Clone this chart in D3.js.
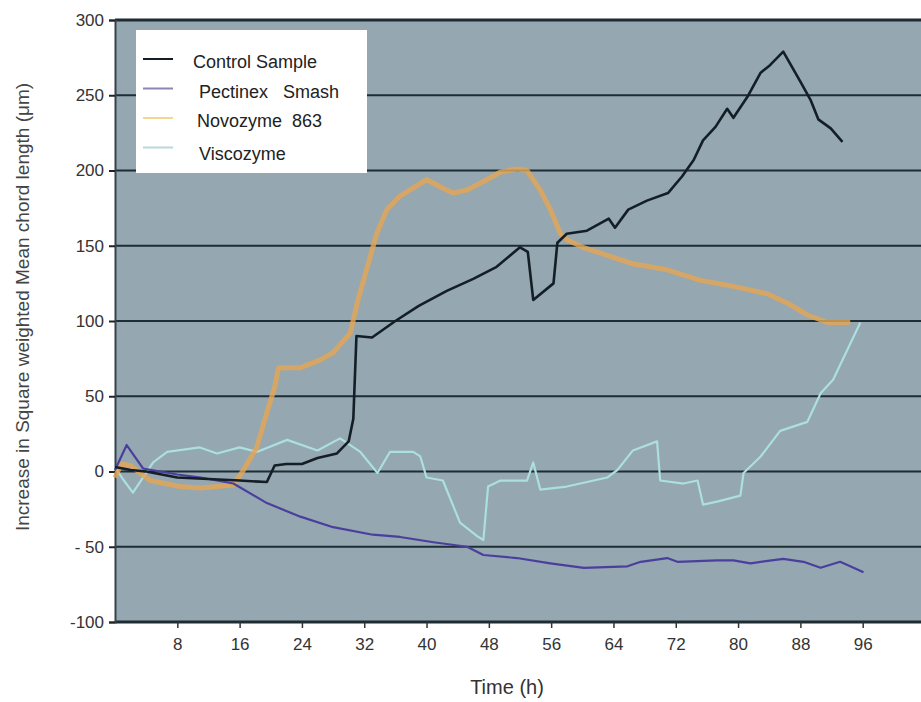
<!DOCTYPE html>
<html>
<head>
<meta charset="utf-8">
<script src="https://cdn.jsdelivr.net/npm/d3@7"></script>
<style>
  body { margin: 0; background: #fff; }
  svg { display: block; font-family: Arial, 'Liberation Sans', sans-serif; }
</style>
</head>
<body>
<div id="chart"></div>
<script>
// values: [time (h), increase (um)]
const controlSample = [
  [0, 3], [2, 1], [4, 0], [6, -2], [8, -4], [12, -5], [16, -6], [19.5, -7],
  [20.5, 4], [22, 5], [24, 5], [26, 9], [28.5, 12], [30, 20], [30.6, 35],
  [31, 90], [33, 89], [36, 100], [39, 110], [42.6, 120], [46, 128], [49, 136],
  [52, 149], [53, 146], [53.7, 114], [56.3, 125], [56.8, 152], [58, 158],
  [60.6, 160], [63.4, 168], [64.2, 162], [65.9, 174], [68.3, 180], [71, 185],
  [72.8, 196], [74.3, 207], [75.5, 220], [77.1, 229], [78.6, 241], [79.4, 235],
  [81.2, 249], [82.9, 265], [84.1, 270], [85.8, 279], [88, 259], [89.3, 247],
  [90.3, 234], [91.9, 228], [93.4, 219]
];
const pectinexSmash = [
  [0, 1], [1.5, 17.6], [3.6, 2], [5.8, 0], [8, -2], [11, -4], [15.2, -8],
  [19.5, -21], [23.8, -30], [28, -37], [33.1, -42], [36.6, -43.5], [40.9, -47],
  [45.2, -50], [47.3, -55.5], [51.6, -57.5], [55.9, -61], [60.2, -64],
  [65.8, -63], [67.5, -60], [70.9, -57.5], [72.2, -60], [77.3, -59],
  [79.4, -59], [81.6, -61], [85.8, -58], [88.4, -60], [90.6, -64], [93.1, -60],
  [94.4, -63], [96.1, -67]
];
const novozyme863 = [
  [0, -4], [0.8, 5], [2, 4], [4.5, -6], [8.3, -10], [11, -11], [15.2, -9],
  [16.5, 1], [18.2, 16], [19.5, 39], [20.5, 56], [21, 69], [23.8, 69],
  [26.3, 74], [28, 79], [30.2, 92], [31.2, 114], [32.4, 136], [33.6, 158],
  [34.9, 174], [36.6, 183], [40, 194], [41.8, 189], [43.4, 185], [45.2, 187],
  [47.8, 194], [49.5, 199], [51.6, 201], [52.9, 200], [54.6, 187], [55.9, 174],
  [57.2, 158], [58, 154], [60.1, 149], [63.6, 143], [66.5, 138], [70.9, 134],
  [75.2, 127], [79.4, 123], [83.8, 118], [86.3, 112], [88.9, 104], [91.5, 99],
  [94.4, 99]
];
const viscozyme = [
  [0, 3], [1, -5], [2.3, -14], [4.9, 6], [6.7, 13], [10.9, 16], [13.1, 12],
  [16, 16], [18.2, 13], [22.1, 21], [26, 14], [28.9, 22], [31.5, 13],
  [33.7, -1], [35.3, 13], [38.3, 13], [39.2, 10], [40, -4], [42.1, -6],
  [44.3, -34], [46.5, -43], [47.3, -45.5], [47.9, -10], [49.5, -6], [52.9, -6],
  [53.7, 6], [54.6, -12], [58, -10], [63.2, -4], [64.5, 1], [66.5, 14],
  [69.6, 20], [70, -6], [73, -8], [74.8, -6], [75.5, -22], [77.3, -20],
  [80.3, -16], [80.7, -1], [82.9, 10], [85.4, 27], [88.9, 33], [90.6, 52],
  [92.2, 61], [95.7, 99]
];

const seriesNames = ['Control Sample', 'Pectinex   Smash', 'Novozyme  863', 'Viscozyme'];
const xTicks = [8, 16, 24, 32, 40, 48, 56, 64, 72, 80, 88, 96];
const yTicks = [-100, -50, 0, 50, 100, 150, 200, 250, 300];
const yTickLabels = ['-100', '- 50', '0', '50', '100', '150', '200', '250', '300'];

const W = 921;
const H = 702;
const margin = { top: 20, right: -4, bottom: 80, left: 115 };

const x = d3.scaleLinear().domain([0, 104]).range([margin.left, W - margin.right]);
const y = d3.scaleLinear().domain([-100, 300]).range([H - margin.bottom, margin.top]);

const svg = d3.select('#chart').append('svg')
  .attr('width', W)
  .attr('height', H);

// plot background
svg.append('rect')
  .attr('x', x(0))
  .attr('y', y(300))
  .attr('width', x(104) - x(0))
  .attr('height', y(-100) - y(300))
  .attr('fill', '#95a7b0');

// horizontal grid
svg.append('g')
  .selectAll('line')
  .data(yTicks)
  .enter().append('line')
  .attr('x1', x(0))
  .attr('x2', x(104))
  .attr('y1', d => y(d))
  .attr('y2', d => y(d))
  .attr('stroke', '#1e2c34')
  .attr('stroke-width', d => (d === 300 || d === -100 ? 3 : 2));

// left axis
const yAxis = svg.append('g')
  .attr('transform', `translate(${x(0)},0)`)
  .call(d3.axisLeft(y).tickValues(yTicks).tickSize(6).tickPadding(5)
    .tickFormat((d, i) => yTickLabels[i]));
yAxis.select('.domain').attr('stroke', '#34424a').attr('stroke-width', 2);
yAxis.selectAll('.tick line').attr('stroke', '#222').attr('stroke-width', 2);
yAxis.selectAll('.tick text')
  .attr('fill', '#333')
  .style('font-size', '17px');

// bottom axis
const xAxis = svg.append('g')
  .attr('transform', `translate(0,${y(-100)})`)
  .call(d3.axisBottom(x).tickValues(xTicks).tickSize(6).tickPadding(10));
xAxis.select('.domain').remove();
xAxis.selectAll('.tick line').attr('stroke', '#333').attr('stroke-width', 1.5);
xAxis.selectAll('.tick text')
  .attr('fill', '#333')
  .style('font-size', '17px');

// axis titles
svg.append('text')
  .attr('x', 507)
  .attr('y', 694)
  .attr('text-anchor', 'middle')
  .attr('fill', '#333')
  .style('font-size', '20px')
  .text('Time (h)');

svg.append('text')
  .attr('transform', 'translate(22,307) rotate(-90)')
  .attr('text-anchor', 'middle')
  .attr('dominant-baseline', 'central')
  .attr('fill', '#444')
  .style('font-size', '19px')
  .text('Increase in Square weighted Mean chord length  (\u03bcm)');

// series lines
const line = d3.line()
  .x(d => x(d[0]))
  .y(d => y(d[1]));

const series = [
  { data: viscozyme, color: '#abdfe0', width: 2.2, opacity: 1 },
  { data: novozyme863, color: '#e4a656', width: 5, opacity: 0.82 },
  { data: pectinexSmash, color: '#4b3f9e', width: 2.2, opacity: 1 },
  { data: controlSample, color: '#141e26', width: 2.6, opacity: 1 }
];

svg.append('g')
  .selectAll('path')
  .data(series)
  .enter().append('path')
  .attr('d', d => line(d.data))
  .attr('fill', 'none')
  .attr('stroke', d => d.color)
  .attr('stroke-width', d => d.width)
  .attr('stroke-opacity', d => d.opacity)
  .attr('stroke-linejoin', 'round');

// legend
const legend = svg.append('g');
legend.append('rect')
  .attr('x', 136)
  .attr('y', 30)
  .attr('width', 231)
  .attr('height', 143)
  .attr('fill', '#fff');

const legendColors = ['#141e26', '#8a86b8', '#f0d890', '#b8d8dc'];
const legendRows = legend.selectAll('g.row')
  .data(seriesNames)
  .enter().append('g')
  .attr('class', 'row')
  .attr('transform', (d, i) => `translate(0,${59 + i * 29.5})`);

legendRows.append('line')
  .attr('x1', 143)
  .attr('x2', 173)
  .attr('stroke', (d, i) => legendColors[i])
  .attr('stroke-width', 2);

legendRows.append('text')
  .attr('x', (d, i) => [193, 199, 197, 199][i])
  .attr('y', (d, i) => (i === 3 ? 6 : 3))
  .attr('dominant-baseline', 'central')
  .attr('fill', '#222')
  .style('font-size', '18px')
  .style('white-space', 'pre')
  .attr('xml:space', 'preserve')
  .text(d => d);
</script>
</body>
</html>
